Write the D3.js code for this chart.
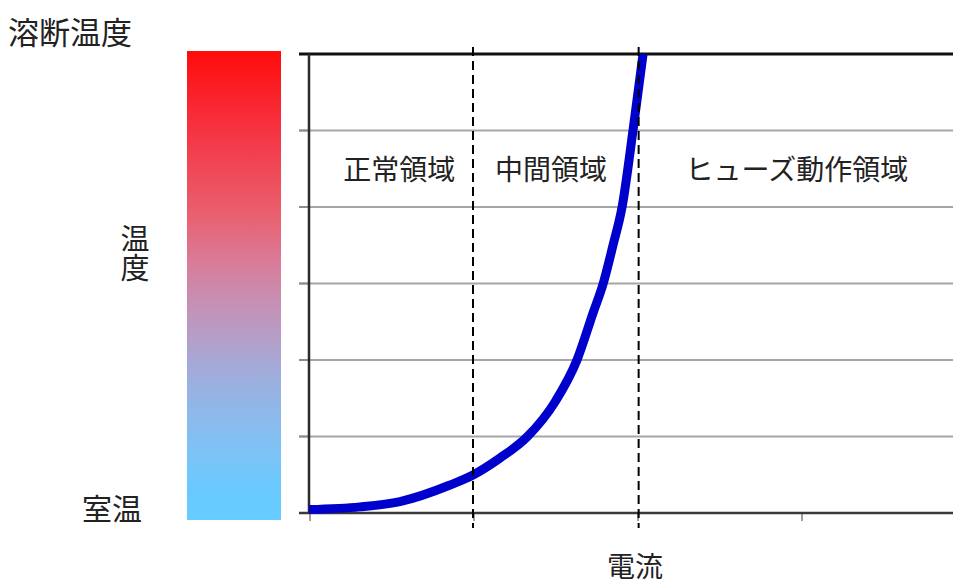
<!DOCTYPE html>
<html>
<head>
<meta charset="utf-8">
<script src="https://cdn.jsdelivr.net/npm/d3@7"></script>
<style>
  html, body { margin: 0; padding: 0; background: #fff; }
  svg { display: block; }
  text { font-family: "Noto Sans CJK JP", "Noto Sans", sans-serif; fill: #222; }
</style>
</head>
<body>
<svg id="chart" width="953" height="584"></svg>
<script>
// ---- data ----
const currentValues = [0, 0.311, 0.555, 0.860, 1.0, 1.165, 1.329, 1.5, 1.634, 1.732, 1.793, 1.854, 1.909, 1.976, 2.037];
const tempValues    = [0.045, 0.08, 0.15, 0.366, 0.497, 0.719, 0.993, 1.451, 2.0, 2.614, 2.993, 3.503, 4.0, 5.007, 6.0];
const xTicks = [0, 1, 2, 3, 4];
const yTicks = [0, 1, 2, 3, 4, 5, 6];
const boundaries = [1.0, 2.01];
const regionLabels = ["正常領域", "中間領域", "ヒューズ動作領域"];
const regionCenters = [0.55, 1.475, 2.975];
const titleText = "溶断温度";
const yLabel = "温度";
const roomTempText = "室温";
const xLabel = "電流";

// ---- layout ----
const svg = d3.select("#chart");
const W = 953, H = 584;
const x = d3.scaleLinear().domain([0, 4]).range([309, 965]);
const y = d3.scaleLinear().domain([0, 6]).range([513, 54]);

const defs = svg.append("defs");
const grad = defs.append("linearGradient").attr("id", "tempGrad")
  .attr("x1", 0).attr("y1", 0).attr("x2", 0).attr("y2", 1);
[[0, "#ff0c0c"], [0.18, "#f53645"], [0.35, "#e9606f"], [0.45, "#d97c99"],
 [0.55, "#c393b8"], [0.63, "#b0a2cd"], [0.72, "#98b2e2"], [0.85, "#7ec2f5"],
 [0.93, "#6ac9fe"], [1, "#66ccff"]].forEach(([o, c]) =>
  grad.append("stop").attr("offset", o).attr("stop-color", c));

defs.append("clipPath").attr("id", "clip").append("rect")
  .attr("x", 0).attr("y", 0).attr("width", W).attr("height", H);

// gradient bar
svg.append("rect")
  .attr("x", 187).attr("width", 94)
  .attr("y", y(6) - 3).attr("height", (y(0) + 7) - (y(6) - 3))
  .attr("fill", "url(#tempGrad)");

const g = svg.append("g").attr("clip-path", "url(#clip)");

// gridlines (horizontal)
g.selectAll("line.grid").data(yTicks.filter(d => d > 0 && d < 6)).join("line")
  .attr("class", "grid")
  .attr("x1", x(0) - 10).attr("x2", W)
  .attr("y1", d => y(d)).attr("y2", d => y(d))
  .attr("stroke", "#a6a6a6").attr("stroke-width", 2);

// y axis ticks (left)
g.selectAll("line.ytick").data(yTicks).join("line")
  .attr("class", "ytick")
  .attr("x1", x(0) - 10).attr("x2", x(0))
  .attr("y1", d => y(d)).attr("y2", d => y(d))
  .attr("stroke", "#8c8c8c").attr("stroke-width", 2);

// x axis ticks
g.selectAll("line.xtick").data(xTicks).join("line")
  .attr("class", "xtick")
  .attr("x1", d => x(d) + 1).attr("x2", d => x(d) + 1)
  .attr("y1", y(0)).attr("y2", y(0) + 8)
  .attr("stroke", "#a0a0a0").attr("stroke-width", 2);

// top border (black)
g.append("line")
  .attr("x1", x(0) - 10).attr("x2", W)
  .attr("y1", y(6)).attr("y2", y(6))
  .attr("stroke", "#111").attr("stroke-width", 3);

// x axis line
g.append("line")
  .attr("x1", x(0) - 10).attr("x2", W)
  .attr("y1", y(0)).attr("y2", y(0))
  .attr("stroke", "#3a3a3a").attr("stroke-width", 2.5);

// y axis line
g.append("line")
  .attr("x1", x(0)).attr("x2", x(0))
  .attr("y1", y(6)).attr("y2", y(0))
  .attr("stroke", "#2a2a2a").attr("stroke-width", 2.5);

// curve
const pts = currentValues.map((c, i) => [c, tempValues[i]]);
g.append("path")
  .datum(pts)
  .attr("d", d3.line().x(d => x(d[0])).y(d => y(d[1])).curve(d3.curveMonotoneX))
  .attr("fill", "none")
  .attr("stroke", "#0000cc")
  .attr("stroke-width", 9)
  .attr("stroke-linejoin", "round");

// dashed boundaries
g.selectAll("line.bound").data(boundaries).join("line")
  .attr("class", "bound")
  .attr("x1", d => x(d)).attr("x2", d => x(d))
  .attr("y1", y(6) - 7).attr("y2", y(0) + 15)
  .attr("stroke", "#000").attr("stroke-width", 2)
  .attr("stroke-dasharray", "9,5");

// region labels
svg.selectAll("text.region").data(regionLabels).join("text")
  .attr("class", "region")
  .attr("x", (d, i) => x(regionCenters[i]))
  .attr("y", 168)
  .attr("text-anchor", "middle")
  .attr("dominant-baseline", "central")
  .style("font-size", "28px")
  .text(d => d);

// title
svg.append("text")
  .attr("x", 8).attr("y", 30)
  .attr("dominant-baseline", "central")
  .style("font-size", "31px")
  .text(titleText);

// vertical y label (single vertical text)
svg.append("text")
  .attr("x", 135)
  .attr("y", 253)
  .attr("text-anchor", "middle")
  .style("writing-mode", "vertical-rl")
  .style("font-size", "29px")
  .text(yLabel);

// room temp label
svg.append("text")
  .attr("x", 112).attr("y", 507)
  .attr("text-anchor", "middle")
  .attr("dominant-baseline", "central")
  .style("font-size", "30px")
  .text(roomTempText);

// x label
svg.append("text")
  .attr("x", 635).attr("y", 565)
  .attr("text-anchor", "middle")
  .attr("dominant-baseline", "central")
  .style("font-size", "28px")
  .text(xLabel);
</script>
</body>
</html>
